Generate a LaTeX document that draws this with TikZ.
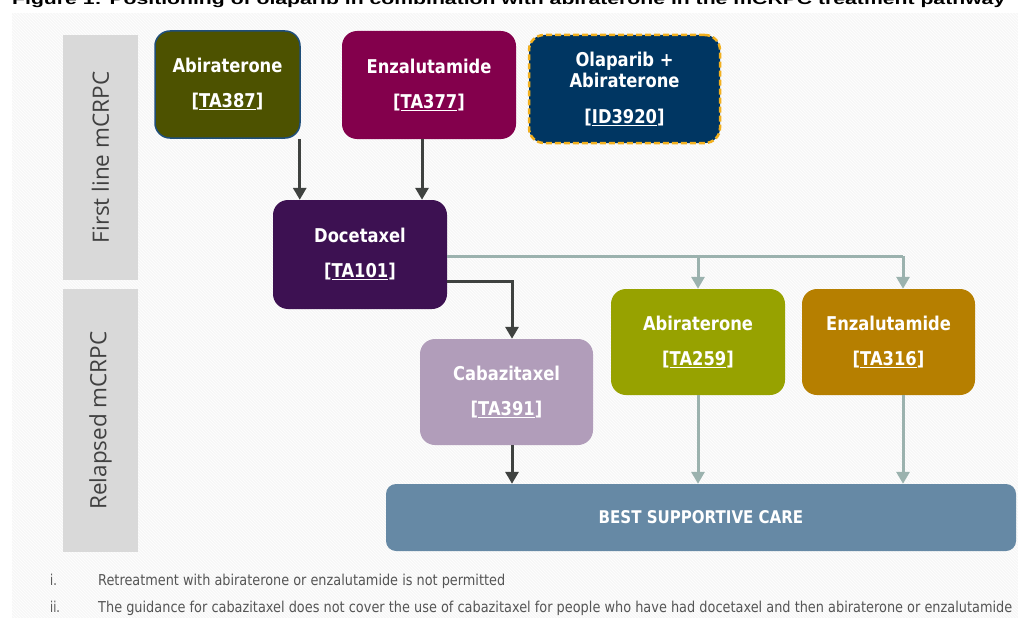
\documentclass[tikz,border=0pt]{standalone}
\usepackage{fontspec}
\usepackage{graphicx}
\usetikzlibrary{arrows.meta,patterns,calc}
\setmainfont{DejaVu Sans}
\newfontfamily\boxfont{DejaVu Sans}[FakeStretch=0.86]
\newfontfamily\notefont{DejaVu Sans}[FakeStretch=0.75]
\newfontfamily\titlefont{Liberation Sans}
\newfontfamily\labfont{Open Sans}
\definecolor{cAbiA}{HTML}{4D5200}
\definecolor{cAbiBorder}{HTML}{1F4E79}
\definecolor{cEnzA}{HTML}{83004C}
\definecolor{cOla}{HTML}{003662}
\definecolor{cOlaBorder}{HTML}{F2B01E}
\definecolor{cDoc}{HTML}{3D1152}
\definecolor{cCab}{HTML}{B19DBA}
\definecolor{cAbiB}{HTML}{97A200}
\definecolor{cEnzB}{HTML}{B67F00}
\definecolor{cBsc}{HTML}{6689A5}
\definecolor{cLab}{HTML}{D9D9D9}
\definecolor{cLabText}{HTML}{404040}
\definecolor{cDark}{HTML}{3F4240}
\definecolor{cGrey}{HTML}{9BB2AE}
\definecolor{cNote}{HTML}{555555}
\definecolor{cBg}{HTML}{F7F7F7}
\tikzset{
  drugbox/.style={rounded corners=15pt, draw=none, text=white, align=center,
    font=\boxfont\fontsize{19}{21}\selectfont\bfseries, inner sep=0pt},
  phaselab/.style={fill=cLab, draw=none, inner sep=0pt},
  phasetext/.style={rotate=90, text=cLabText, font=\labfont\fontsize{22.5}{26}\selectfont},
  darr/.style={draw=cDark, line width=3pt, -{Triangle[width=13pt,length=12pt]}},
  garr/.style={draw=cGrey, line width=3pt, -{Triangle[width=13pt,length=12pt]}},
  gline/.style={draw=cGrey, line width=3pt},
  note/.style={anchor=base west, text=cNote, font=\notefont\fontsize{15}{17}\selectfont, inner sep=0pt}
}
\newcommand{\reflink}[1]{[\underline{#1}]}
\begin{document}
\begin{tikzpicture}[x=1pt,y=-1pt]
\useasboundingbox (0,0) rectangle (1018,618);
\fill[white] (0,0) rectangle (1018,618);
% title (cut at the top edge, as in the reference)
\node[anchor=base west, inner sep=0pt, font=\titlefont\fontsize{15}{17}\selectfont\bfseries] (title) at (12,4.5)
  {\resizebox{993pt}{\height}{Figure 1: Positioning of olaparib in combination with abiraterone in the mCRPC treatment pathway}};
% hatched background
\fill[cBg] (12,13) rectangle (1018,618);
\fill[pattern=north west lines, pattern color=white] (12,13) rectangle (1018,618);
% phase labels
\node[phaselab, minimum width=75pt, minimum height=245pt] (lab1) at (100.5,157.5) {};
\node[phasetext] at (lab1.center) {First line mCRPC};
\node[phaselab, minimum width=75pt, minimum height=263pt] (lab2) at (100.5,420.5) {};
\node[phasetext] at (lab2.center) {Relapsed mCRPC};
% drug boxes
\node[drugbox, fill=cAbiA, draw=cAbiBorder, line width=1.5pt, minimum width=145pt, minimum height=107pt] (ab1) at (227.5,84.5)
  {Abiraterone\\[14pt]\reflink{TA387}};
\node[drugbox, fill=cEnzA, minimum width=174pt, minimum height=108pt] (en1) at (429,85)
  {Enzalutamide\\[14pt]\reflink{TA377}};
\node[drugbox, fill=cOla, draw=cOlaBorder, line width=2.5pt, dash pattern=on 6pt off 3pt, minimum width=191pt, minimum height=108pt] (ol) at (624.5,89)
  {Olaparib +\\Abiraterone\\[15pt]\reflink{ID3920}};
\node[drugbox, fill=cDoc, minimum width=174pt, minimum height=109pt] (doc) at (360,254.5)
  {Docetaxel\\[14pt]\reflink{TA101}};
\node[drugbox, fill=cCab, minimum width=173pt, minimum height=106pt] (cab) at (506.5,392)
  {Cabazitaxel\\[14pt]\reflink{TA391}};
\node[drugbox, fill=cAbiB, minimum width=174pt, minimum height=106pt] (ab2) at (698,342)
  {Abiraterone\\[14pt]\reflink{TA259}};
\node[drugbox, fill=cEnzB, minimum width=173pt, minimum height=106pt] (en2) at (888.5,342)
  {Enzalutamide\\[14pt]\reflink{TA316}};
\node[drugbox, rounded corners=10pt, fill=cBsc, minimum width=630pt, minimum height=67pt, font=\boxfont\fontsize{17.5}{19}\selectfont\bfseries] (bsc) at (701,517.5)
  {BEST SUPPORTIVE CARE};
% connector anchor points
\coordinate (a1) at ($(ab1.south east)+(-1,0)$);
\coordinate (e1) at ($(en1.south)+(-7,0)$);
\coordinate (d1) at ($(doc.east)+(0,26.5)$);
\coordinate (d2) at ($(doc.east)+(0,1.5)$);
\coordinate (c1) at ($(cab.north)+(5.5,0)$);
\coordinate (c2) at ($(cab.south)+(5.5,0)$);
\coordinate (n1) at ($(en2.north)+(14.5,0)$);
\coordinate (n2) at ($(en2.south)+(14.5,0)$);
% dark connectors
\draw[darr] (a1) -- (doc.north -| a1);
\draw[darr] (e1) -- (doc.north -| e1);
\draw[darr] (d1) -| (c1);
\draw[darr] (c2) -- (bsc.north -| c2);
% grey connectors
\draw[gline] (d2) -- (d2 -| n1);
\draw[garr] (d2 -| n1) -- (n1);
\draw[garr] (d2 -| ab2.north) -- (ab2.north);
\draw[garr] (ab2.south) -- (bsc.north -| ab2.south);
\draw[garr] (n2) -- (bsc.north -| n2);
% footnotes
\node[note] (fn1n) at (50,585) {i.};
\node[note] (fn1) at (98,585) {\resizebox{407pt}{\height}{Retreatment with abiraterone or enzalutamide is not permitted}};
\node[note] (fn2n) at (50,612) {ii.};
\node[note] (fn2) at (98,612) {\resizebox{914pt}{\height}{The guidance for cabazitaxel does not cover the use of cabazitaxel for people who have had docetaxel and then abiraterone or enzalutamide}};
\end{tikzpicture}
\end{document}
